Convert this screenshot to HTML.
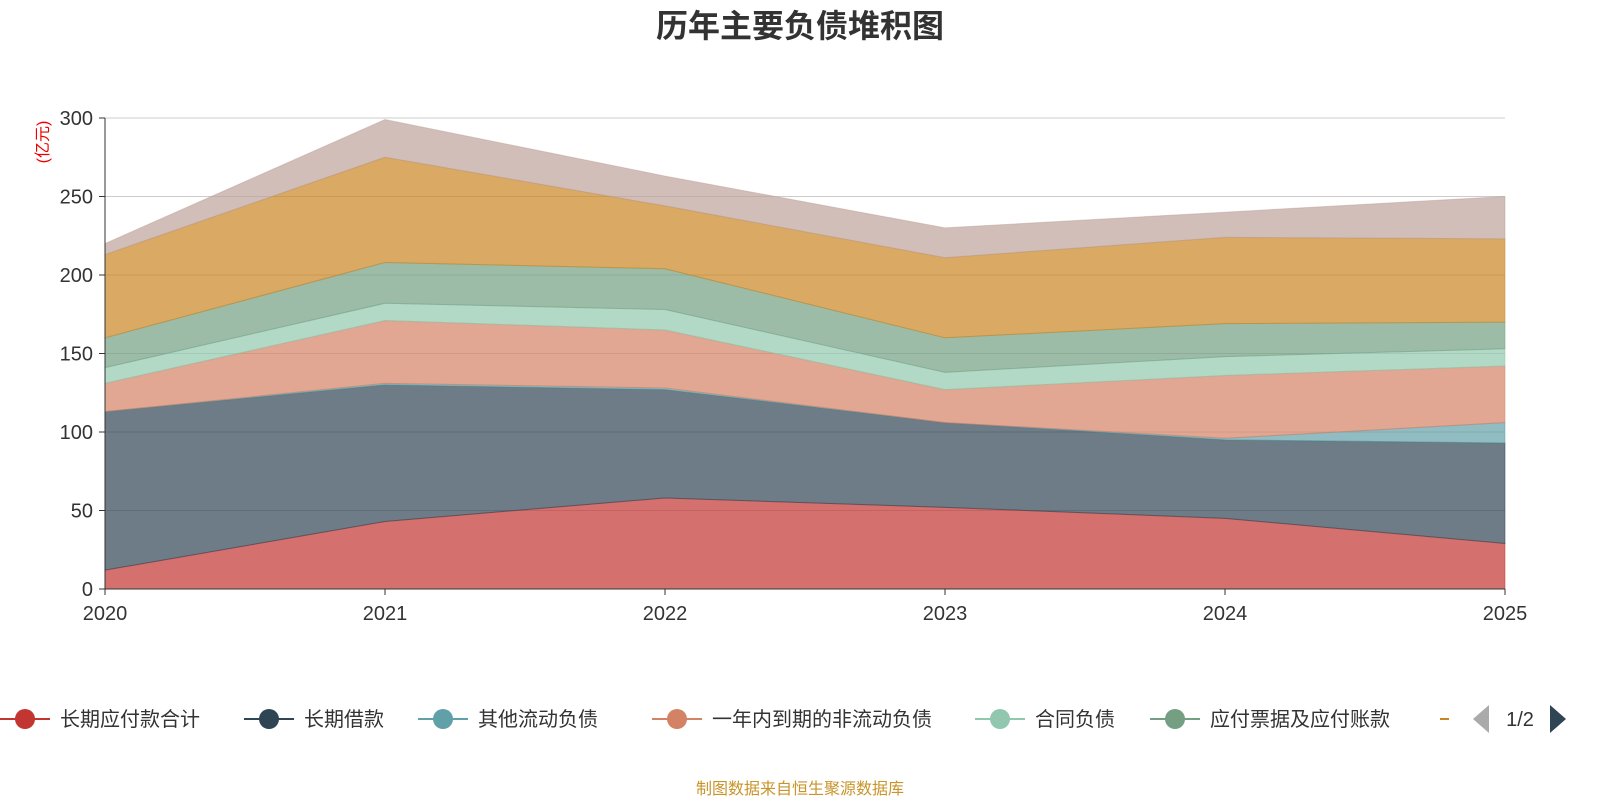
<!DOCTYPE html>
<html><head><meta charset="utf-8">
<style>
body{margin:0;background:#fff;width:1600px;height:800px;overflow:hidden;font-family:"Liberation Sans","Noto Sans CJK SC",sans-serif;}
</style></head>
<body>
<svg id="chart" width="1600" height="800" xmlns="http://www.w3.org/2000/svg" font-family="Liberation Sans, Noto Sans CJK SC, sans-serif">
<text x="800" y="37" text-anchor="middle" font-size="32" font-weight="bold" fill="#333">历年主要负债堆积图</text>
<text transform="translate(48,142) rotate(-90)" text-anchor="middle" font-size="16" fill="#e00">(亿元)</text>
<g id="grid"></g>
<g id="areas"></g>
<g id="axes"></g>
<g id="legend"></g>
<text x="800" y="794" text-anchor="middle" font-size="16" fill="#c9942a">制图数据来自恒生聚源数据库</text>
</svg>
<script>
const years = ["2020","2021","2022","2023","2024","2025"];
const seriesNames = ["长期应付款合计","长期借款","其他流动负债","一年内到期的非流动负债","合同负债","应付票据及应付账款","其他"];
const s1 = [12,43,58,52,45,29];
const s2 = [101,87,69,54,50,64];
const s3 = [0,1,1,0,1,13];
const s4 = [18,40,37,21,40,36];
const s5 = [10,11,13,11,12,11];
const s6 = [19,26,26,22,21,17];
const s7 = [53,67,40,51,55,53];
const s8 = [7,24,19,19,16,27];
const yTicks = [0,50,100,150,200,250,300];
const series = [s1,s2,s3,s4,s5,s6,s7,s8];
const colors = ["#c23531","#2f4554","#61a0a8","#d48265","#91c7ae","#749f83","#ca8622","#bda29a"];
const NS="http://www.w3.org/2000/svg";
const x0=105,x1=1505,yb=589,yt=118;
const xs=i=>x0+(x1-x0)*i/(years.length-1);
const ys=v=>yb-(yb-yt)*v/300;
function mk(tag,attrs,parent){const e=document.createElementNS(NS,tag);for(const k in attrs)e.setAttribute(k,attrs[k]);parent.appendChild(e);return e;}
const grid=document.getElementById('grid'),areas=document.getElementById('areas'),axes=document.getElementById('axes'),legend=document.getElementById('legend');
yTicks.forEach(t=>{
 const l=mk('line',{x1:x0,x2:x1,y1:ys(t),y2:ys(t),stroke:t===0?'#333':'#ccc','stroke-width':1},grid);
 
 
 const tx=mk('text',{x:x0-12,y:ys(t)+7,'text-anchor':'end','font-size':20,fill:'#333'},axes);
 tx.textContent=t;
 
 
 const tk=mk('line',{x1:x0-6,x2:x0,y1:ys(t),y2:ys(t),stroke:'#333'},axes);
 
 
});
let cum=years.map(()=>0);
series.forEach((s,k)=>{
 const lo=cum.slice();const hi=cum.map((c,i)=>c+s[i]);
 let d='M'+years.map((_,i)=>xs(i)+','+ys(hi[i])).join('L');
 for(let i=years.length-1;i>=0;i--)d+='L'+xs(i)+','+ys(lo[i]);
 d+='Z';
 const p=mk('path',{d:d,fill:colors[k],'fill-opacity':0.7,stroke:colors[k],'stroke-opacity':0.5,'stroke-width':1},areas);
 
 
 cum=hi;
});
mk('line',{x1:x0,x2:x0,y1:yt,y2:yb,stroke:'#333'},axes);
mk('line',{x1:x0,x2:x1,y1:yb,y2:yb,stroke:'#333'},axes);
years.forEach((y,i)=>{
 const tk=mk('line',{x1:xs(i),x2:xs(i),y1:yb,y2:yb+6,stroke:'#333'},axes);
 
 
 const t=mk('text',{x:xs(i),y:620,'text-anchor':'middle','font-size':20,fill:'#333'},axes);
 t.textContent=y;
 
 
});
const legX=[0,244,418,652,975,1150,1440];
legX.forEach((lx,k)=>{
 const g=mk('g',{},legend);
 
 
 if(k<6){
  mk('line',{x1:lx,x2:lx+50,y1:719,y2:719,stroke:colors[k],'stroke-width':2},g);
  mk('circle',{cx:lx+25,cy:719,r:10,fill:colors[k]},g);
  const t=mk('text',{x:lx+60,y:726,'font-size':20,fill:'#333'},g);
  t.textContent=seriesNames[k];
 } else {
  mk('line',{x1:lx,x2:lx+9,y1:719,y2:719,stroke:colors[6],'stroke-width':2},g);
 }
});
const pl=mk('path',{d:'M1473,719L1489,705L1489,733Z',fill:'#aaa'},legend);


const pt=mk('text',{x:1520,y:726,'text-anchor':'middle','font-size':20,fill:'#333'},legend);
pt.textContent='1/2';


const pn=mk('path',{d:'M1566,719L1550,705L1550,733Z',fill:'#2f4554'},legend);


</script>
</body></html>
